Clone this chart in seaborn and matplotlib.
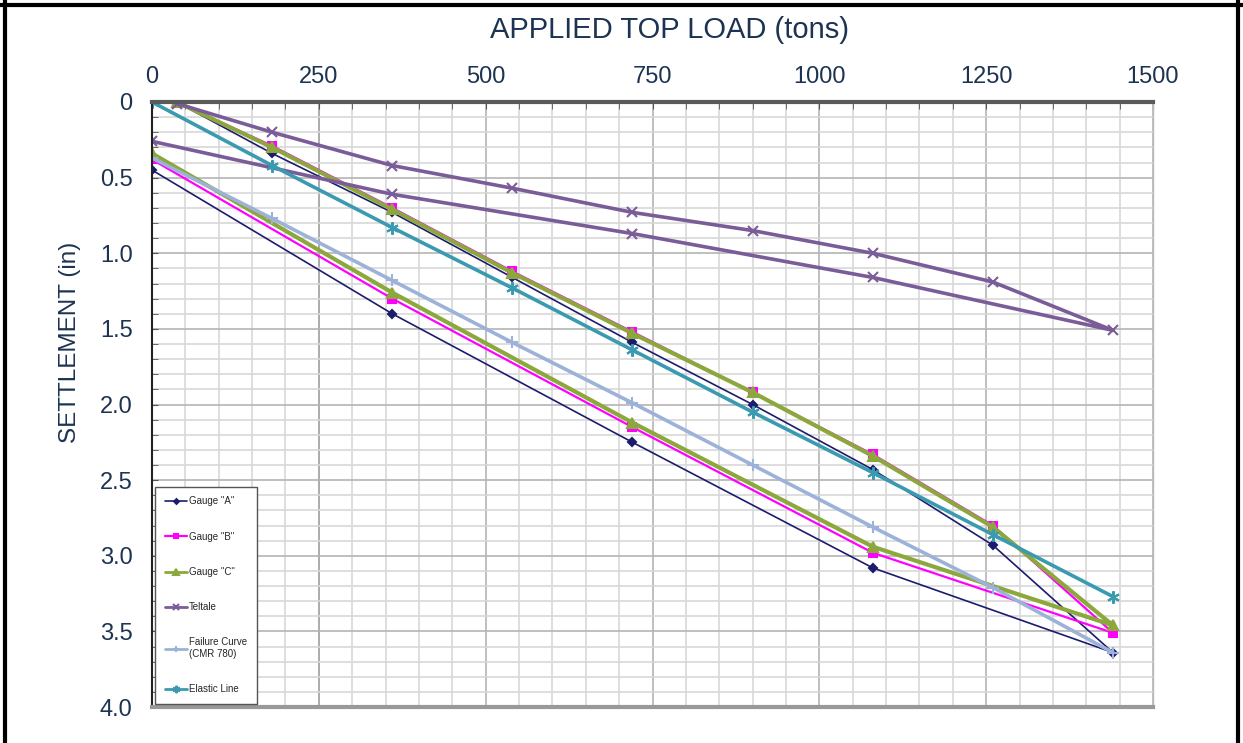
import matplotlib
matplotlib.use("Agg")
import matplotlib.pyplot as plt
from matplotlib.lines import Line2D
from matplotlib.ticker import MultipleLocator, FuncFormatter
from matplotlib.font_manager import FontProperties
import seaborn as sns

# load steps (tons): loading up to 1440, then unloading back to 0
load_gauge = [37, 180, 360, 540, 720, 900, 1080, 1260, 1440, 1080, 720, 360, 0]
gauge_a = [0.0, 0.34, 0.73, 1.16, 1.59, 2.00, 2.43, 2.93, 3.64, 3.08, 2.25, 1.40, 0.45]
gauge_b = [0.0, 0.29, 0.70, 1.12, 1.52, 1.92, 2.33, 2.80, 3.51, 2.98, 2.15, 1.30, 0.38]
gauge_c = [0.0, 0.30, 0.71, 1.13, 1.53, 1.92, 2.34, 2.81, 3.46, 2.94, 2.12, 1.26, 0.34]
teltale = [0.01, 0.20, 0.42, 0.57, 0.73, 0.85, 1.00, 1.19, 1.51, 1.16, 0.87, 0.61, 0.26]

load_line = [0, 180, 360, 540, 720, 900, 1080, 1260, 1440]
failure = [0.37, 0.77, 1.18, 1.59, 1.99, 2.40, 2.81, 3.21, 3.64]
elastic = [0.0, 0.42, 0.83, 1.23, 1.64, 2.05, 2.45, 2.86, 3.27]

x_ticks = [0, 250, 500, 750, 1000, 1250, 1500]

sns.set_style("white")
plt.rcParams['font.family'] = ['Liberation Sans', 'DejaVu Sans']

fig = plt.figure(figsize=(12.43, 7.43), dpi=100)
ax = fig.add_axes([152/1243, 1 - 707/743, 1001/1243, 605/743])

series = [
    (load_gauge, gauge_a, 'Gauge "A"', '#1c1c6e', 'D', 4, 1.2),
    (load_gauge, gauge_b, 'Gauge "B"', '#ff00ff', 's', 5.5, 1.6),
    (load_gauge, gauge_c, 'Gauge "C"', '#8ca83c', '^', 7, 3.0),
    (load_gauge, teltale, 'Teltale', '#7a5c98', 'x', 7, 2.6),
    (load_line, failure, 'Failure Curve\n(CMR 780)', '#9db2d8', '+', 8, 2.6),
    (load_line, elastic, 'Elastic Line', '#3a9ab0', (6, 2, 0), 9, 2.6),
]
for x, y, label, color, marker, ms, lw in series:
    sns.lineplot(x=x, y=y, ax=ax, sort=False, estimator=None, label=label,
                 color=color, marker=marker, markersize=ms, linewidth=lw,
                 markeredgecolor=color, markeredgewidth=1.5)

ax.set_xlim(0, 1500)
ax.set_ylim(4.0, 0)
ax.xaxis.set_major_locator(MultipleLocator(250))
ax.xaxis.set_minor_locator(MultipleLocator(50))
ax.yaxis.set_major_locator(MultipleLocator(0.5))
ax.yaxis.set_minor_locator(MultipleLocator(0.1))
ax.set_xticks(x_ticks)
ax.yaxis.set_major_formatter(FuncFormatter(lambda v, p: '0' if v == 0 else f'{v:.1f}'))

ax.grid(which='minor', color='#d8d8d8', linewidth=1.2)
ax.grid(which='major', color='#b4b4b4', linewidth=1.2)
ax.axvline(250, color='#777777', linewidth=1.2, zorder=0.5)
ax.set_axisbelow(True)

ax.xaxis.tick_top()
ax.tick_params(axis='x', which='both', top=True, bottom=False, labeltop=True,
               labelbottom=False, direction='in', length=5, color='#555555',
               labelsize=17, labelcolor='#1d3352', pad=10)
ax.tick_params(axis='y', which='both', left=True, direction='in', length=4,
               color='#555555', labelsize=17, labelcolor='#1d3352', pad=14)

ax.spines['top'].set_color('#5a5a5a')
ax.spines['top'].set_linewidth(3)
ax.spines['left'].set_color('#222222')
ax.spines['left'].set_linewidth(1.5)
ax.spines['bottom'].set_color('#999999')
ax.spines['bottom'].set_linewidth(3)
ax.spines['right'].set_color('#bbbbbb')
ax.spines['right'].set_linewidth(1)

ax.set_xlabel('')
ax.set_ylabel('')
fig.text(670/1243, 1 - 30/743, 'APPLIED TOP LOAD (tons)', ha='center', va='center',
         fontsize=21, color='#1d3352')
fig.text(70/1243, 1 - 342/743, 'SETTLEMENT (in)', ha='center', va='center',
         rotation=90, fontsize=17.5, color='#1d3352')

leg = ax.legend(loc='lower left', bbox_to_anchor=(0, 0), borderaxespad=0.3,
                prop=FontProperties(family=['Liberation Sans Narrow', 'Liberation Sans'], size=7),
                labelspacing=2.6, handlelength=2.3, handletextpad=0.2, markerscale=0.6,
                borderpad=1.0, fancybox=False, framealpha=1)
leg.get_frame().set_edgecolor('#555555')
leg.get_frame().set_linewidth(1)
for h in leg.get_lines():
    h.set_linewidth(min(h.get_linewidth(), 2.0))

# outer frame of the picture
for xs, ys in [([0.004, 0.004], [0, 1]), ([0.996, 0.996], [0, 1]), ([0, 1], [0.993, 0.993])]:
    fig.add_artist(Line2D(xs, ys, transform=fig.transFigure, color='black', linewidth=3))

fig.savefig('out.png', dpi=100)
